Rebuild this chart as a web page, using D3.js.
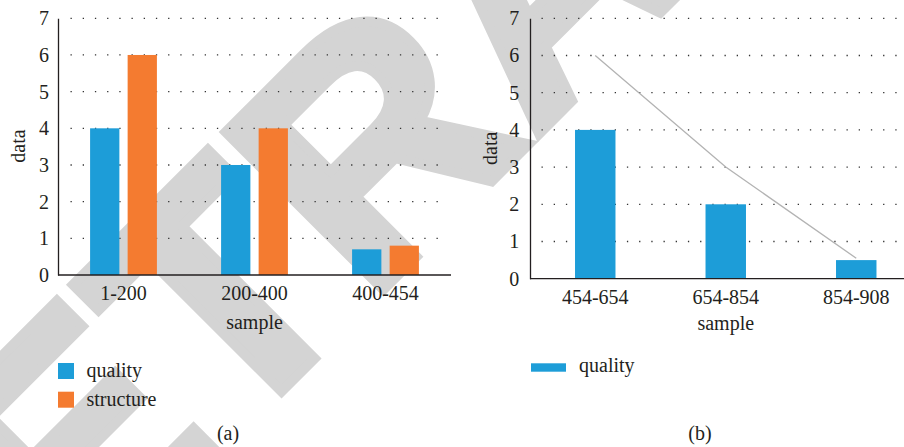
<!DOCTYPE html>
<html>
<head>
<meta charset="utf-8">
<script src="https://cdn.jsdelivr.net/npm/d3@7"></script>
<style>
  html, body { margin: 0; padding: 0; background: #fff; }
  svg { display: block; }
  text { font-family: "Liberation Serif", "DejaVu Serif", serif; fill: #231f20; }
</style>
</head>
<body>
<div id="chart"></div>
<script>
// data (a)
const catsA = ["1-200", "200-400", "400-454"];
const seriesA = ["quality", "structure"];
const qualityA = [4, 3, 0.7];
const structureA = [6, 4, 0.8];

// data (b)
const catsB = ["454-654", "654-854", "854-908"];
const qualityB = [4, 2, 0.5];
const lineB = [6, 3, 0.55];

const yTicks = [0, 1, 2, 3, 4, 5, 6, 7];

const colors = { quality: "#1d9dd8", structure: "#f47b30" };
const ink = "#231f20";

const W = 904, H = 447;

const svg = d3.select("#chart")
    .append("svg")
    .attr("width", W)
    .attr("height", H);

// watermark behind everything
const wm = svg.append("text")
    .style("font-family", "'Liberation Sans', Arial, sans-serif")
    .style("font-weight", "bold")
    .style("font-size", "324px")
    .style("fill", "#d4d4d4")
    .style("stroke", "#d4d4d4")
    .style("stroke-width", 10)
    .style("stroke-linejoin", "miter")
    .text("RETRACTED");
let off = 0;
try { off = wm.node().getSubStringLength(0, 3); } catch (e) { off = 0; }
wm.attr("x", -off).attr("transform", "translate(368,305) rotate(-45)");

function drawPanel(opt) {
    const g = svg.append("g");

    const y = d3.scaleLinear().domain([0, 7]).range([opt.y0, 18.3]);

    const x = d3.scaleBand()
        .domain(opt.cats)
        .range([opt.x0, opt.x1])
        .paddingInner(opt.padIn)
        .paddingOuter(opt.padOut);

    // dotted grid
    g.selectAll(".grid")
        .data(yTicks.filter(d => d > 0))
        .enter().append("line")
        .attr("x1", opt.gridStart)
        .attr("x2", opt.gridEnd)
        .attr("y1", d => y(d))
        .attr("y2", d => y(d))
        .attr("stroke", "#333")
        .attr("stroke-width", 1.3)
        .attr("stroke-dasharray", "1.3,10.9");

    opt.bars(g, x, y);

    // axes
    const ax = g.append("g")
        .attr("transform", `translate(0,${opt.y0})`)
        .call(d3.axisBottom(x).tickSize(0).tickPadding(opt.xPad));
    ax.select(".domain").attr("stroke", ink).attr("stroke-width", 1.3)
        .attr("d", `M${opt.x0},0H${opt.axisEnd}`);
    ax.selectAll("text").style("font-size", "20px").attr("fill", ink);

    const ay = g.append("g")
        .attr("transform", `translate(${opt.x0},0)`)
        .call(d3.axisLeft(y).tickValues(yTicks).tickSize(0).tickPadding(opt.yPad).tickFormat(d3.format("d")));
    ay.select(".domain").attr("stroke", ink).attr("stroke-width", 1.3);
    ay.selectAll("text").style("font-size", "20px").attr("fill", ink);

    // axis titles
    g.append("text")
        .attr("transform", `translate(${opt.dataX},${opt.dataY}) rotate(-90)`)
        .attr("text-anchor", "middle")
        .style("font-size", "20px")
        .text("data");

    g.append("text")
        .attr("x", (opt.x0 + opt.x1) / 2)
        .attr("y", opt.sampleY)
        .attr("text-anchor", "middle")
        .style("font-size", "20px")
        .text("sample");

    g.append("text")
        .attr("x", opt.capX)
        .attr("y", 440)
        .attr("text-anchor", "middle")
        .style("font-size", "20px")
        .text(opt.caption);

    return g;
}

// (a) grouped bars
drawPanel({
    cats: catsA, x0: 58, x1: 451, y0: 275, padIn: 0.49, padOut: 0.245,
    gridStart: 70.5, gridEnd: 448, axisEnd: 451, xPad: 10.6, yPad: 9,
    dataX: 25, dataY: 146, sampleY: 329, capX: 228, caption: "(a)",
    bars: (g, x, y) => {
        const rows = catsA.map((c, i) => ({ cat: c, quality: qualityA[i], structure: structureA[i] }));
        const xs = d3.scaleBand().domain(seriesA).range([0, x.bandwidth()]).paddingInner(0.22);
        g.selectAll(".grp")
            .data(rows)
            .enter().append("g")
            .attr("transform", d => `translate(${x(d.cat)},0)`)
            .selectAll("rect")
            .data(d => seriesA.map(k => ({ key: k, value: d[k] })))
            .enter().append("rect")
            .attr("x", d => xs(d.key))
            .attr("y", d => y(d.value))
            .attr("width", xs.bandwidth())
            .attr("height", d => y(0) - y(d.value))
            .attr("fill", d => colors[d.key]);
    }
});

// (b) bars + line
drawPanel({
    cats: catsB, x0: 530, x1: 921.5, y0: 278.7, padIn: 0.69, padOut: 0.345,
    gridStart: 541.5, gridEnd: 904, axisEnd: 904, xPad: 11, yPad: 10.7,
    dataX: 496.7, dataY: 148.3, sampleY: 330, capX: 700, caption: "(b)",
    bars: (g, x, y) => {
        g.selectAll(".bar")
            .data(catsB)
            .enter().append("rect")
            .attr("x", d => x(d))
            .attr("y", (d, i) => y(qualityB[i]))
            .attr("width", x.bandwidth())
            .attr("height", (d, i) => y(0) - y(qualityB[i]))
            .attr("fill", colors.quality);

        const line = d3.line()
            .x((d, i) => x(catsB[i]) + x.bandwidth() / 2)
            .y(d => y(d));
        g.append("path")
            .datum(lineB)
            .attr("d", line)
            .attr("fill", "none")
            .attr("stroke", "#b3b3b3")
            .attr("stroke-width", 1.3);
    }
});

// legend (a)
const legA = svg.append("g");
seriesA.forEach((k, i) => {
    legA.append("rect")
        .attr("x", 58).attr("y", 363 + i * 28.7)
        .attr("width", 16).attr("height", 16)
        .attr("fill", colors[k]);
    legA.append("text")
        .attr("x", 86.5).attr("y", 377 + i * 28.7)
        .style("font-size", "20px")
        .text(k);
});

// legend (b)
const legB = svg.append("g");
legB.append("rect")
    .attr("x", 531).attr("y", 363.3)
    .attr("width", 35).attr("height", 8.4)
    .attr("fill", colors.quality);
legB.append("text")
    .attr("x", 579).attr("y", 372)
    .style("font-size", "20px")
    .text("quality");
</script>
</body>
</html>
